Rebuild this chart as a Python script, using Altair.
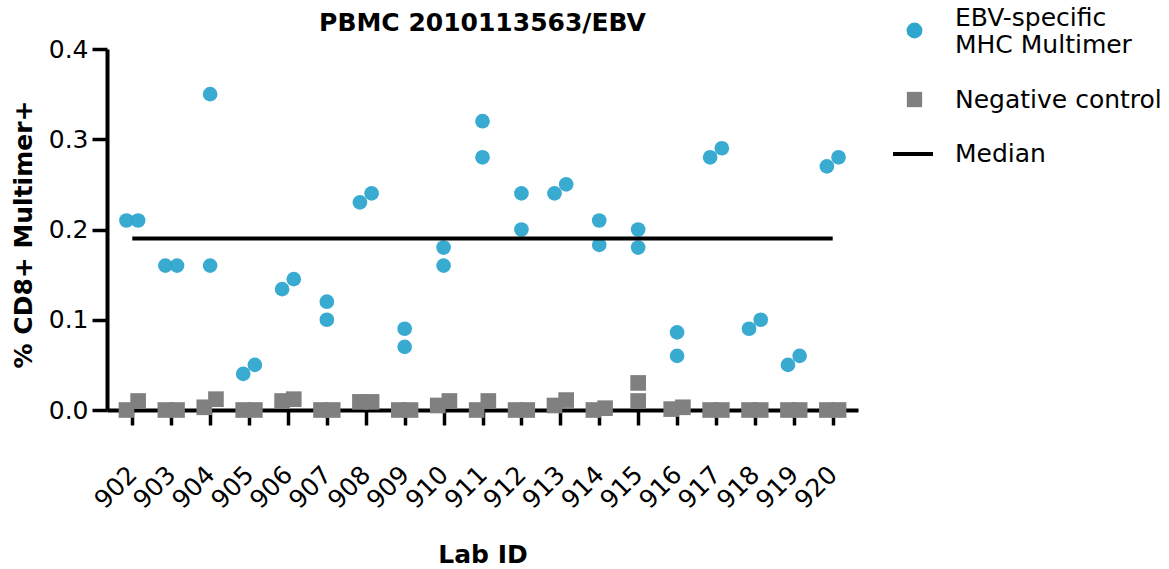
import altair as alt
import pandas as pd

labs = list(range(902, 921))
ebv_rep1 = [0.21, 0.16, 0.35, 0.04, 0.134, 0.12, 0.23, 0.09, 0.18, 0.32,
            0.24, 0.24, 0.21, 0.20, 0.086, 0.28, 0.09, 0.05, 0.27]
ebv_rep2 = [0.21, 0.16, 0.16, 0.05, 0.145, 0.10, 0.24, 0.07, 0.16, 0.28,
            0.20, 0.25, 0.183, 0.18, 0.060, 0.29, 0.10, 0.06, 0.28]
neg_rep1 = [0.0, 0.0, 0.003, 0.0, 0.010, 0.0, 0.009, 0.0, 0.005, 0.0,
            0.0, 0.005, 0.0, 0.030, 0.001, 0.0, 0.0, 0.0, 0.0]
neg_rep2 = [0.010, 0.0, 0.012, 0.0, 0.012, 0.0, 0.009, 0.0, 0.010, 0.010,
            0.0, 0.011, 0.002, 0.010, 0.003, 0.0, 0.0, 0.0, 0.0]
y_ticks = [0.0, 0.1, 0.2, 0.3, 0.4]

EBV = "EBV-specific MHC Multimer"
NEG = "Negative control"
MEDIAN_LABEL = "Median"
BLUE = "#2ea7cf"
GRAY = "#808080"
FONT = "DejaVu Sans"

# GraphPad-style spreading: overlapping replicates are nudged sideways
OVERLAP = 0.015
NUDGE = 0.15
rows = []
for series, r1, r2 in [(EBV, ebv_rep1, ebv_rep2), (NEG, neg_rep1, neg_rep2)]:
    for lab, a, b in zip(labs, r1, r2):
        lo, hi = sorted([a, b])
        spread = (hi - lo) < OVERLAP
        rows.append({"lab": lab, "series": series, "value": lo, "off": -NUDGE if spread else 0.0})
        rows.append({"lab": lab, "series": series, "value": hi, "off": NUDGE if spread else 0.0})
df = pd.DataFrame(rows)

common_legend = dict(orient="none", title=None, padding=0, labelFontSize=25, labelFont=FONT,
                     labelColor="black", labelLimit=400, symbolOpacity=1)
ebv_legend = alt.Legend(
    legendX=795, legendY=-31, symbolSize=250, labelOffset=28, labelBaseline="bottom",
    labelExpr="['EBV-specific', 'MHC Multimer']", **common_legend,
)
neg_legend = alt.Legend(
    legendX=795, legendY=38, symbolSize=234, labelOffset=28, labelBaseline="middle",
    **common_legend,
)
median_legend = alt.Legend(
    legendX=784, legendY=83, symbolType="stroke", symbolSize=1600,
    symbolStrokeColor="black", symbolStrokeWidth=4, labelOffset=20, labelBaseline="middle",
    **common_legend,
)

x_enc = alt.X(
    "xpos:Q",
    scale=alt.Scale(domain=[labs[0] - 0.65, labs[-1] + 0.65], nice=False, zero=False),
    axis=alt.Axis(
        values=labs, format="d", title="Lab ID", grid=False,
        labelAngle=315, labelAlign="right", labelBaseline="middle", labelOverlap=False,
        labelFontSize=25, labelFont=FONT, labelColor="black", labelPadding=45,
        tickSize=15, tickWidth=3.5, tickColor="black",
        domainWidth=4, domainColor="black",
        titleFontSize=25, titleFont=FONT, titleFontWeight="bold", titleColor="black",
        titleY=152, titleBaseline="alphabetic",
    ),
)
y_enc = alt.Y(
    "value:Q",
    scale=alt.Scale(domain=[0, 0.4], nice=False),
    axis=alt.Axis(
        values=y_ticks, format=".1f", title="% CD8+ Multimer+", grid=False,
        labelFontSize=25, labelFont=FONT, labelColor="black", labelPadding=4,
        tickSize=15, tickWidth=3.5, tickColor="black",
        domainWidth=4, domainColor="black",
        titleFontSize=25, titleFont=FONT, titleFontWeight="bold", titleColor="black",
        titleX=-76, titleY=185, titleBaseline="alphabetic",
    ),
)

no_frame = alt.ViewBackground(strokeWidth=0, strokeOpacity=0)

base = alt.Chart(df).transform_calculate(xpos="datum.lab + datum.off")

circles = base.transform_filter(alt.datum.series == EBV).mark_point(
    filled=True, size=215, opacity=0.95
).encode(
    x=x_enc, y=y_enc,
    color=alt.Color("series:N", scale=alt.Scale(domain=[EBV], range=[BLUE]), legend=ebv_legend),
    shape=alt.Shape("series:N", scale=alt.Scale(domain=[EBV], range=["circle"]), legend=ebv_legend),
).properties(view=no_frame)

squares = base.transform_filter(alt.datum.series == NEG).mark_point(
    filled=True, size=245, opacity=1
).encode(
    x=x_enc, y=y_enc,
    color=alt.Color("series:N", scale=alt.Scale(domain=[NEG], range=[GRAY]), legend=neg_legend),
    shape=alt.Shape("series:N", scale=alt.Scale(domain=[NEG], range=["square"]), legend=neg_legend),
).properties(view=no_frame)

median = (
    alt.Chart(df)
    .transform_filter(alt.datum.series == EBV)
    .transform_aggregate(m="mean(value)", groupby=["lab"])
    .transform_aggregate(med="median(m)", x0="min(lab)", x1="max(lab)")
    .transform_calculate(stat=f"'{MEDIAN_LABEL}'")
    .mark_rule(color="black", strokeWidth=4, strokeCap="butt")
    .encode(
        x=alt.X("x0:Q"), x2=alt.X2("x1"), y=alt.Y("med:Q"),
        strokeDash=alt.StrokeDash("stat:N", scale=alt.Scale(domain=[MEDIAN_LABEL], range=[[1, 0]]),
                                  legend=median_legend),
    )
    .properties(view=no_frame)
)

chart = (
    alt.layer(circles, squares, median)
    .resolve_scale(color="independent", shape="independent")
    .resolve_legend(color="independent", shape="independent", strokeDash="independent")
    .properties(
        width=751, height=361,
        padding={"left": 107, "top": 49, "right": 311, "bottom": 159},
        autosize=alt.AutoSizeParams(type="none"),
        view=no_frame,
        title=alt.TitleParams(
            "PBMC 2010113563/EBV", font=FONT, fontSize=25, fontWeight="bold",
            color="black", anchor="middle", frame="group", baseline="alphabetic", offset=-38,
        ),
    )
    .configure_view(strokeWidth=0, strokeOpacity=0)
    .configure(background="white")
)

chart.save("out.html", embed_options={"renderer": "svg", "actions": False})
